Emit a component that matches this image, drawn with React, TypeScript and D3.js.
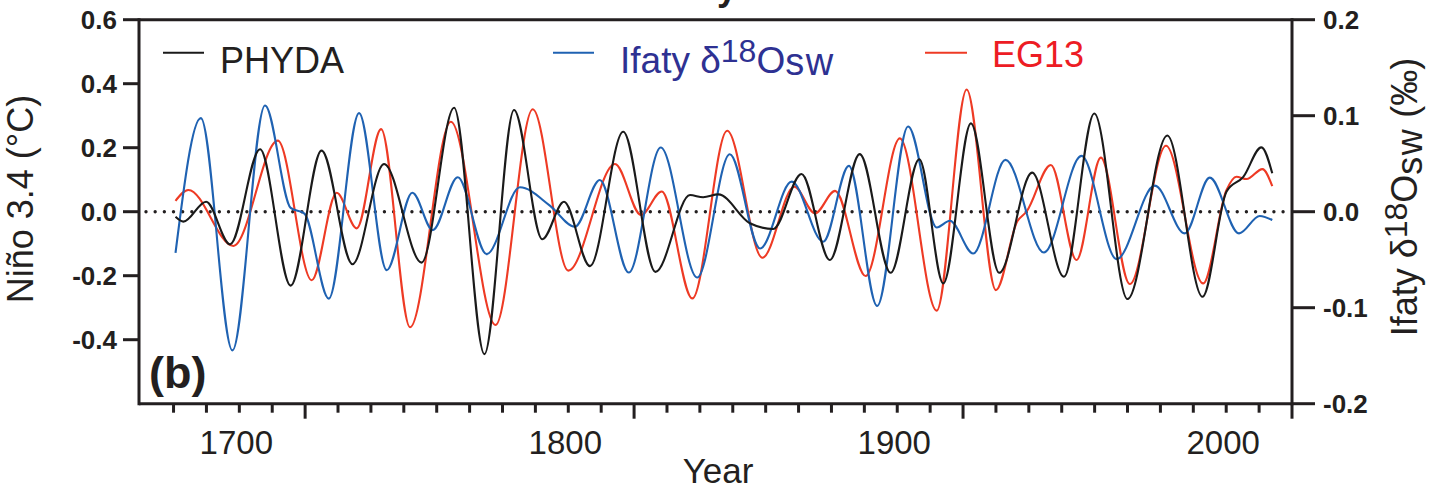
import React from 'react';
import * as d3 from 'd3';

// PHYDA Niño 3.4 (°C, left axis)
const phydaYears = [1680.6, 1683.0, 1689.9, 1697.2, 1706.3, 1715.6, 1725.0, 1734.4, 1744.0, 1755.4, 1765.3, 1774.5, 1783.5, 1792.1, 1798.7, 1806.6, 1816.7, 1826.5, 1837.0, 1841.0, 1845.6, 1855.2, 1862.3, 1870.9, 1879.5, 1888.6, 1898.0, 1906.7, 1914.0, 1922.4, 1931.0, 1941.0, 1950.7, 1959.9, 1970.0, 1982.1, 1992.8, 2000.1, 2005.2, 2010.7, 2014.0];
const phydaValues = [-0.016, -0.031, 0.031, -0.102, 0.195, -0.231, 0.191, -0.164, 0.149, -0.159, 0.325, -0.445, 0.318, -0.086, 0.031, -0.170, 0.250, -0.188, 0.052, 0.045, 0.054, -0.036, -0.054, 0.118, -0.151, 0.180, -0.191, 0.164, -0.224, 0.276, -0.191, 0.122, -0.203, 0.307, -0.273, 0.238, -0.266, 0.063, 0.109, 0.201, 0.120];

// EG13 Niño 3.4 (°C, left axis)
const eg13Years = [1680.6, 1684.5, 1698.2, 1711.7, 1722.0, 1729.6, 1735.7, 1743.1, 1751.9, 1764.3, 1777.9, 1789.2, 1800.0, 1814.2, 1822.1, 1828.4, 1837.7, 1848.3, 1859.0, 1868.7, 1875.0, 1881.1, 1890.4, 1900.8, 1912.0, 1921.1, 1930.0, 1936.5, 1939.3, 1946.7, 1954.5, 1961.9, 1970.7, 1981.7, 1993.0, 2000.1, 2003.1, 2006.2, 2011.0, 2014.0];
const eg13Values = [0.034, 0.068, -0.107, 0.222, -0.214, 0.059, -0.052, 0.258, -0.361, 0.281, -0.354, 0.320, -0.184, 0.149, -0.010, 0.063, -0.271, 0.253, -0.144, 0.078, -0.005, 0.065, -0.201, 0.229, -0.309, 0.382, -0.245, -0.030, 0.000, 0.146, -0.151, 0.169, -0.226, 0.206, -0.224, 0.068, 0.109, 0.102, 0.133, 0.080];

// Ifaty δ18Osw (‰, right axis)
const ifatyYears = [1680.6, 1688.3, 1697.9, 1707.8, 1715.6, 1719.8, 1727.2, 1736.4, 1744.8, 1752.6, 1758.8, 1766.4, 1775.2, 1785.3, 1794.4, 1802.0, 1809.6, 1818.4, 1828.1, 1839.2, 1849.1, 1858.3, 1867.9, 1877.5, 1885.3, 1893.9, 1903.3, 1912.0, 1916.0, 1923.1, 1932.9, 1944.6, 1956.0, 1966.7, 1978.3, 1987.4, 1995.0, 2003.9, 2010.2, 2014.0];
const ifatyValues = [-0.043, 0.0975, -0.1445, 0.1107, 0.004, -0.002, -0.0905, 0.1027, -0.0609, 0.0198, -0.0192, 0.0359, -0.0442, 0.0254, 0.0063, -0.0157, 0.033, -0.0634, 0.0669, -0.0686, 0.0599, -0.0383, 0.0313, -0.0313, 0.0477, -0.0982, 0.0888, -0.0164, -0.0094, -0.0435, 0.054, -0.0425, 0.0581, -0.0494, 0.0272, -0.0226, 0.0355, -0.0226, -0.0045, -0.0087];

const xTickYears = d3.range(1680, 2021, 10);
const xMajorYears = [1720, 1820, 1920, 2020];
const xLabelYears = [1700, 1800, 1900, 2000];
const leftTicks = [0.6, 0.4, 0.2, 0.0, -0.2, -0.4];
const rightTicks = [0.2, 0.1, 0.0, -0.1, -0.2];

const W = 1438;
const H = 491;
const FONT = "'Liberation Sans', Arial, Helvetica, sans-serif";
const INK = '#231f20';
const BLACK = '#1a1a1a';
const BLUE = '#1f62b2';
const RED = '#ee3a24';
const BLUE_TEXT = '#2e3192';
const RED_TEXT = '#ed1c24';

const x = d3.scaleLinear().domain([1669.5, 2020]).range([139, 1292]);
const yL = d3.scaleLinear().domain([-0.6, 0.6]).range([403.7, 19.7]);
const yR = d3.scaleLinear().domain([-0.2, 0.2]).range([403.7, 19.7]);

function makePath(years: number[], values: number[], y: d3.ScaleLinear<number, number>) {
  const pts = years.map((yr, i) => [yr, values[i]] as [number, number]);
  return d3
    .line<[number, number]>()
    .x((d) => x(d[0]))
    .y((d) => y(d[1]))
    .curve(d3.curveMonotoneX)(pts) as string;
}

const fmt = (v: number) => (Math.abs(v) < 1e-9 ? '0.0' : v.toFixed(1));

export default function App() {
  const [x0, x1] = x.range();
  const yBottom = yL(-0.6);
  const yTop = yL(0.6);
  return (
    <svg
      width={W}
      height={H}
      viewBox={`0 0 ${W} ${H}`}
      style={{ position: 'absolute', left: 0, top: 0, background: '#fff' }}
      fontFamily={FONT}
    >
      {/* cut-off title: only the descender of its "y" is inside the picture */}
      <text x={737} y={-0.5} textAnchor="end" fontSize={36} fontWeight="bold" fill={INK}>y</text>

      {/* zero dotted line */}
      <line
        x1={x0 + 7}
        x2={x1 - 2}
        y1={yL(0)}
        y2={yL(0)}
        stroke={INK}
        strokeWidth={3.4}
        strokeLinecap="round"
        strokeDasharray="0 9.17"
      />

      {/* series */}
      <path d={makePath(eg13Years, eg13Values, yL)} fill="none" stroke={RED} strokeWidth={2.1} />
      <path d={makePath(ifatyYears, ifatyValues, yR)} fill="none" stroke={BLUE} strokeWidth={2.1} />
      <path d={makePath(phydaYears, phydaValues, yL)} fill="none" stroke={BLACK} strokeWidth={2.1} />

      {/* frame */}
      <g stroke={INK} strokeWidth={3} fill="none">
        <line x1={x0} x2={x1} y1={yTop} y2={yTop} />
        <line x1={x0} x2={x1} y1={yBottom} y2={yBottom} />
        <line x1={x0} x2={x0} y1={yTop - 1.5} y2={yBottom + 1.5} />
        <line x1={x1} x2={x1} y1={yTop - 1.5} y2={yBottom + 1.5} />
      </g>

      {/* left axis ticks */}
      {leftTicks.map((v) => (
        <g key={'l' + v}>
          <line x1={x0 - 16} x2={x0} y1={yL(v)} y2={yL(v)} stroke={INK} strokeWidth={3} />
          <text x={117} y={yL(v) + 9} textAnchor="end" fontSize={26} fontWeight="bold" fill={INK}>
            {fmt(v)}
          </text>
        </g>
      ))}

      {/* right axis ticks */}
      {rightTicks.map((v) => (
        <g key={'r' + v}>
          <line x1={x1} x2={x1 + 23} y1={yR(v)} y2={yR(v)} stroke={INK} strokeWidth={3} />
          <text x={1323} y={yR(v) + 9} textAnchor="start" fontSize={26} fontWeight="bold" fill={INK}>
            {fmt(v)}
          </text>
        </g>
      ))}

      {/* bottom axis ticks */}
      {xTickYears.map((yr) => {
        const major = xMajorYears.includes(yr);
        return (
          <line
            key={'t' + yr}
            x1={x(yr)}
            x2={x(yr)}
            y1={yBottom}
            y2={yBottom + (major ? 15 : 9)}
            stroke={INK}
            strokeWidth={3}
          />
        );
      })}
      {xLabelYears.map((yr) => (
        <text key={'xl' + yr} x={x(yr) - 3} y={454} textAnchor="middle" fontSize={33} fill={INK}>
          {yr}
        </text>
      ))}
      <text x={718} y={483} textAnchor="middle" fontSize={35} fill={INK}>Year</text>

      {/* left axis title */}
      <text transform="translate(33,199) rotate(-90)" textAnchor="middle" fontSize={36} fill={INK}>
        Niño 3.4 (°C)
      </text>

      {/* right axis title */}
      <text transform="translate(1417,197) rotate(-90)" textAnchor="middle" fontSize={36} fill={INK}>
        Ifaty δ<tspan dy={-10} fontSize={32}>18</tspan>
        <tspan dy={10}>O</tspan>
        <tspan dy={5} letterSpacing={1.5}>sw</tspan>
        <tspan dy={-5}> (‰)</tspan>
      </text>

      {/* panel label */}
      <text x={149} y={388} fontSize={45} fontWeight="bold" fill={INK}>(b)</text>

      {/* legend */}
      <line x1={163} x2={204} y1={52.7} y2={52.7} stroke={BLACK} strokeWidth={2.1} />
      <text x={220} y={72.7} fontSize={36} fill={INK}>PHYDA</text>

      <line x1={553} x2={594} y1={52.7} y2={52.7} stroke={BLUE} strokeWidth={2.1} />
      <text x={620} y={73.3} fontSize={37} fill={BLUE_TEXT}>
        Ifaty δ<tspan dy={-11.6} fontSize={32}>18</tspan>
        <tspan dy={11.6}>O</tspan>
        <tspan dy={2} fontSize={38} letterSpacing={1.5}>sw</tspan>
      </text>

      <line x1={925} x2={967} y1={52.7} y2={52.7} stroke={RED} strokeWidth={2.1} />
      <text x={992} y={66.7} fontSize={36} fill={RED_TEXT}>EG13</text>
    </svg>
  );
}
